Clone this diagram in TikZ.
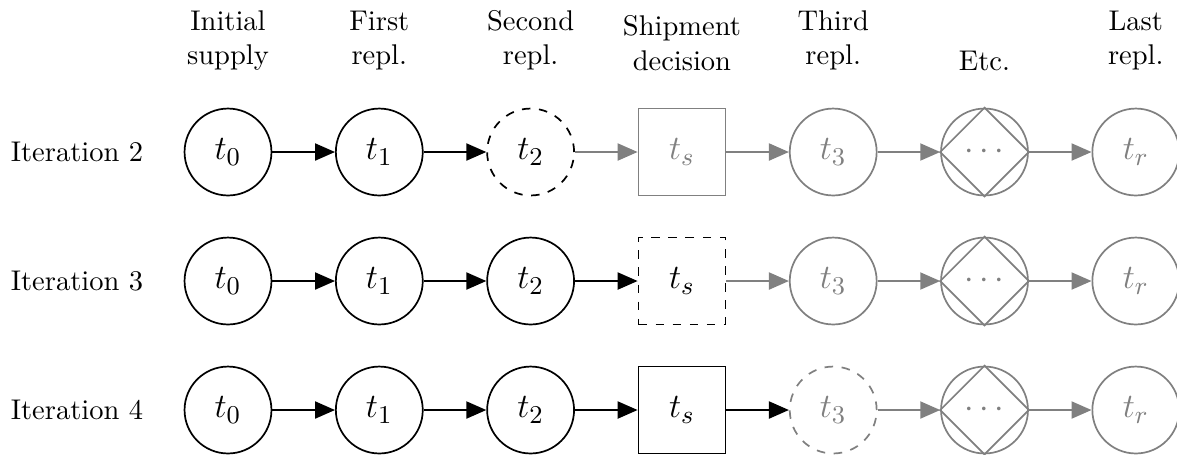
\documentclass[tikz,border=0pt]{standalone}
\usetikzlibrary{arrows.meta}
\begin{document}
\begin{tikzpicture}[
  x=0.3509pt, y=-0.3509pt,
  state/.style={circle, draw, semithick, minimum size=30.5pt, inner sep=0pt, font=\fontsize{13.2}{15}\selectfont},
  stepbox/.style={rectangle, draw, semithick, minimum size=30.5pt, inner sep=0pt, font=\fontsize{13.2}{15}\selectfont},
  faded/.style={draw=gray, text=gray},
  rowlabel/.style={inner sep=0pt},
  header/.style={align=center, anchor=south, inner sep=0pt},
  link/.style={-{Triangle[length=7pt,width=6pt]}, semithick},
  fadedlink/.style={link, gray},
  etcmark/.style={gray, semithick},
]
\useasboundingbox (0,0) rectangle (1177,454);

% column headers
\node[header] (h0) at (228,71)    {Initial\\supply};
\node[header] (h1) at (379.3,71)  {First\\repl.};
\node[header] (h2) at (530.6,71)  {Second\\repl.};
\node[header] (h3) at (681.9,71)  {Shipment\\decision};
\node[header] (h4) at (833.2,71)  {Third\\repl.};
\node[header] (h5) at (984.5,71)  {Etc.};
\node[header] (h6) at (1135.8,71) {Last\\repl.};

% iteration 2
\node[rowlabel] (it2) at (77,152) {Iteration 2};
\node[state] (a0) at (228,152) {$t_0$};
\node[state] (a1) at (379.3,152) {$t_1$};
\node[state, dashed] (a2) at (530.6,152) {$t_2$};
\node[stepbox, faded] (a3) at (681.9,152) {$t_s$};
\node[state, faded] (a4) at (833.2,152) {$t_3$};
\node[state, faded] (a5) at (984.5,152) {$\cdots$};
\node[state, faded] (a6) at (1135.8,152) {$t_r$};
\draw[etcmark] (a5.north) -- (a5.east) -- (a5.south) -- (a5.west) -- cycle;
\draw[link] (a0) -- (a1);
\draw[link] (a1) -- (a2);
\draw[fadedlink] (a2) -- (a3);
\draw[fadedlink] (a3) -- (a4);
\draw[fadedlink] (a4) -- (a5);
\draw[fadedlink] (a5) -- (a6);

% iteration 3
\node[rowlabel] (it3) at (77,281) {Iteration 3};
\node[state] (b0) at (228,281) {$t_0$};
\node[state] (b1) at (379.3,281) {$t_1$};
\node[state] (b2) at (530.6,281) {$t_2$};
\node[stepbox, dashed] (b3) at (681.9,281) {$t_s$};
\node[state, faded] (b4) at (833.2,281) {$t_3$};
\node[state, faded] (b5) at (984.5,281) {$\cdots$};
\node[state, faded] (b6) at (1135.8,281) {$t_r$};
\draw[etcmark] (b5.north) -- (b5.east) -- (b5.south) -- (b5.west) -- cycle;
\draw[link] (b0) -- (b1);
\draw[link] (b1) -- (b2);
\draw[link] (b2) -- (b3);
\draw[fadedlink] (b3) -- (b4);
\draw[fadedlink] (b4) -- (b5);
\draw[fadedlink] (b5) -- (b6);

% iteration 4
\node[rowlabel] (it4) at (77,410) {Iteration 4};
\node[state] (c0) at (228,410) {$t_0$};
\node[state] (c1) at (379.3,410) {$t_1$};
\node[state] (c2) at (530.6,410) {$t_2$};
\node[stepbox] (c3) at (681.9,410) {$t_s$};
\node[state, faded, dashed] (c4) at (833.2,410) {$t_3$};
\node[state, faded] (c5) at (984.5,410) {$\cdots$};
\node[state, faded] (c6) at (1135.8,410) {$t_r$};
\draw[etcmark] (c5.north) -- (c5.east) -- (c5.south) -- (c5.west) -- cycle;
\draw[link] (c0) -- (c1);
\draw[link] (c1) -- (c2);
\draw[link] (c2) -- (c3);
\draw[link] (c3) -- (c4);
\draw[fadedlink] (c4) -- (c5);
\draw[fadedlink] (c5) -- (c6);
\end{tikzpicture}
\end{document}
